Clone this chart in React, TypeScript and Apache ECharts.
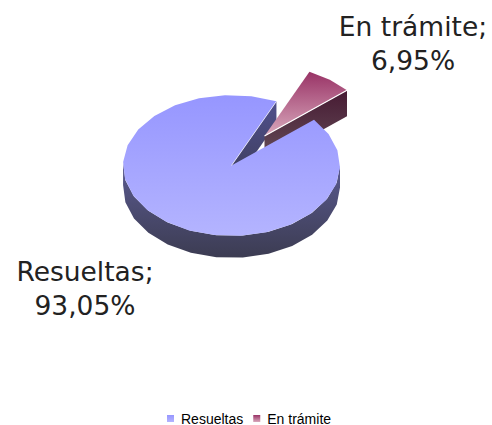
import React, { useEffect, useRef } from "react";
import * as echarts from "echarts";

const categories = ["Resueltas", "En trámite"];
const shares = [93.05, 6.95];
const startDeg = 49.5; // clockwise from 12 o'clock, where Resueltas begins

const W = 492, H = 425;
const CX = 231.5, CY = 165.5, RX = 108.5, RY = 70.5, DEPTH = 22;
const EXPLODE_X = 33, EXPLODE_Y = -29.5, EXPLODE_DEPTH = 26;
const FACET = 14;
const FONT = "'DejaVu Sans', Verdana, sans-serif";
const LABEL_SIZE = 26.5;
const LABEL_LINE = 34;

const grad = (a: string, b: string) =>
  new echarts.graphic.LinearGradient(0, 0, 0, 1, [
    { offset: 0, color: a },
    { offset: 1, color: b },
  ]);

const pt = (deg: number, dx = 0, dy = 0): number[] => {
  const t = (deg * Math.PI) / 180;
  return [CX + dx + RX * Math.sin(t), CY + dy - RY * Math.cos(t)];
};
const arc = (from: number, to: number, dx = 0, dy = 0) => {
  const out: number[][] = [];
  const n = Math.max(1, Math.round((to - from) / FACET));
  for (let i = 0; i <= n; i++) out.push(pt(from + ((to - from) * i) / n, dx, dy));
  return out;
};
const poly = (points: number[][], fill: any, extra: any = {}) => ({
  type: "polygon",
  shape: { points },
  style: { fill, ...extra },
});

const total = shares[0] + shares[1];
const mainSweep = (shares[0] / total) * 360;
const mainEnd = startDeg + mainSweep; // past 360: re-enters at the gap's start
const restSweep = (shares[1] / total) * 360;
const restStart = mainEnd - 360;
const restEnd = restStart + restSweep;
const pct = (v: number) => v.toFixed(2).replace(".", ",") + "%";

const label = (x: number, y: number, name: string, v: number) => ({
  type: "text",
  style: {
    x,
    y,
    text: `${name};\n${pct(v)}`,
    font: `${LABEL_SIZE}px ${FONT}`,
    lineHeight: LABEL_LINE,
    fill: "#222222",
    align: "center",
    verticalAlign: "middle",
  },
});

function renderMainBack() {
  const front = arc(90, 272);
  const bottom = arc(90, 272, 0, DEPTH).reverse();
  const inner = pt(restStart);
  return {
    type: "group",
    children: [
      poly([...front, ...bottom], grad("#5a5a90", "#3c3c52")),
      poly(
        [[CX, CY], inner, [inner[0], inner[1] + DEPTH], [CX, CY + DEPTH]],
        grad("#50508c", "#3c3c58"),
      ),
    ],
  };
}

function renderRest() {
  const apex = [CX + EXPLODE_X, CY + EXPLODE_Y];
  const tip = pt(restEnd, EXPLODE_X, EXPLODE_Y);
  return {
    type: "group",
    children: [
      poly(
        [apex, tip, [tip[0], tip[1] + EXPLODE_DEPTH], [apex[0], apex[1] + EXPLODE_DEPTH]],
        grad("#471a33", "#66505a"),
      ),
      poly([apex, ...arc(restStart, restEnd, EXPLODE_X, EXPLODE_Y)], grad("#993366", "#d9a8bc")),
      {
        type: "line",
        shape: { x1: apex[0], y1: apex[1], x2: tip[0], y2: tip[1] },
        style: { stroke: "#ffffff", lineWidth: 1.2 },
      },
      label(413, 43, categories[1], shares[1]),
    ],
  };
}

function renderMainTop() {
  const inner = pt(restStart);
  return {
    type: "group",
    children: [
      poly([[CX, CY], ...arc(startDeg, mainEnd)], grad("#9696ff", "#b4b4ff")),
      {
        type: "line",
        shape: { x1: CX, y1: CY, x2: inner[0], y2: inner[1] },
        style: { stroke: "#ffffff", lineWidth: 0.8, opacity: 0.8 },
      },
      label(85, 288, categories[0], shares[0]),
    ],
  };
}

export default function App() {
  const ref = useRef<HTMLDivElement>(null);
  useEffect(() => {
    if (!ref.current) return;
    const chart = echarts.init(ref.current, null, { renderer: "svg" });
    const base = { type: "custom", coordinateSystem: "none", silent: true };
    chart.setOption({
      animation: false,
      backgroundColor: "#ffffff",
      legend: {
        left: 167,
        top: 411.5,
        padding: 0,
        itemWidth: 7,
        itemHeight: 7,
        itemGap: 10,
        icon: "rect",
        selectedMode: false,
        textStyle: {
          fontFamily: "'Liberation Sans', Arial, sans-serif",
          fontSize: 14,
          color: "#000000",
          padding: [0, 0, 0, 2],
        },
        data: [
          { name: categories[0], itemStyle: { color: grad("#9696ff", "#b4b4ff") } },
          { name: categories[1], itemStyle: { color: grad("#993366", "#d9a8bc") } },
        ],
      },
      series: [
        { ...base, name: categories[0], z: 1, data: [shares[0]], renderItem: renderMainBack, itemStyle: { color: "#9696ff" } },
        { ...base, name: categories[1], z: 2, data: [shares[1]], renderItem: renderRest, itemStyle: { color: "#993366" } },
        { ...base, name: categories[0], z: 3, data: [shares[0]], renderItem: renderMainTop, itemStyle: { color: "#9696ff" } },
      ],
    });
    return () => chart.dispose();
  }, []);
  return <div ref={ref} style={{ position: "absolute", left: 0, top: 0, width: W, height: H }} />;
}
